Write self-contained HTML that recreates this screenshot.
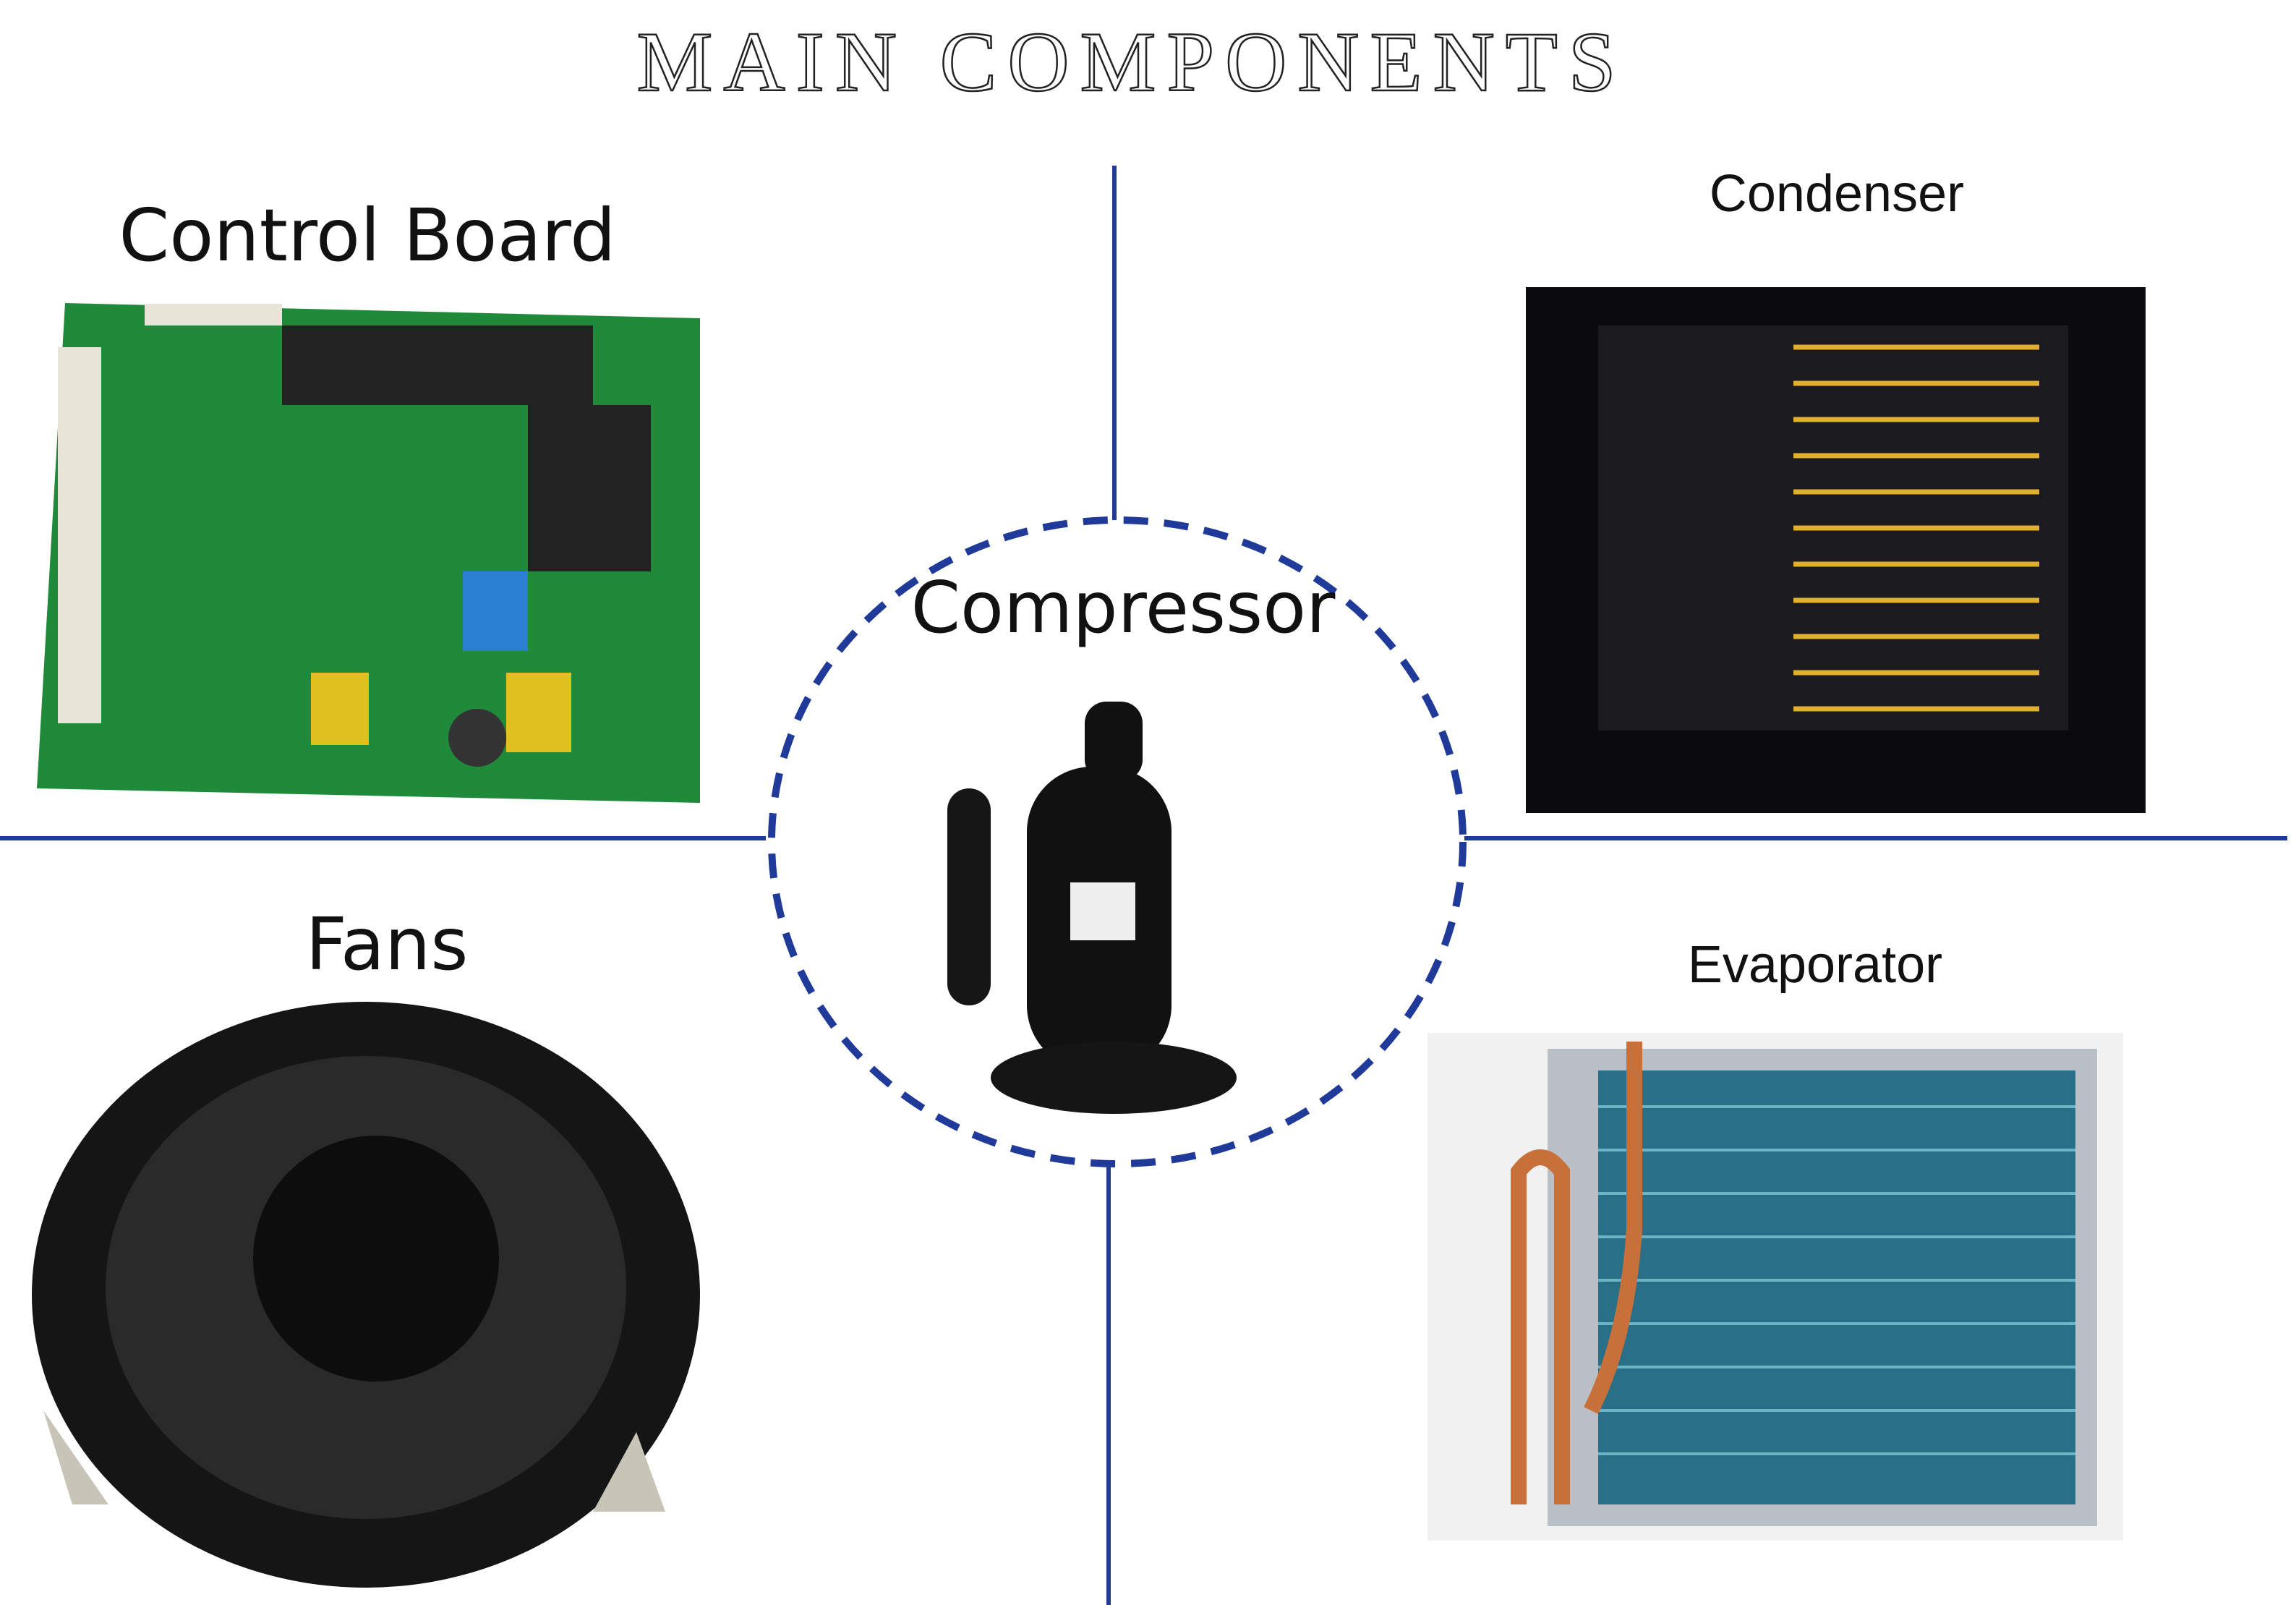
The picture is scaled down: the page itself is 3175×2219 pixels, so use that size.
<!DOCTYPE html>
<html><head><meta charset="utf-8"><style>
html,body{margin:0;padding:0;background:#fff;}
svg{display:block;}
text{font-family:"DejaVu Sans","Liberation Sans",sans-serif;fill:#111;}
</style></head><body>
<svg width="3175" height="2219" viewBox="0 0 3175 2219" xmlns="http://www.w3.org/2000/svg">
<rect width="3175" height="2219" fill="#fff"/>
<text x="1565" y="125" text-anchor="middle" style="font-family:'Liberation Serif',serif;font-size:118px;letter-spacing:15px;fill:#fff;stroke:#222;stroke-width:2.5">MAIN COMPONENTS</text>

<g stroke="#1f3a99" stroke-width="6">
<line x1="1541" y1="229" x2="1541" y2="719"/>
<line x1="1533" y1="1610" x2="1533" y2="2219"/>
<line x1="0" y1="1159" x2="1059" y2="1159"/>
<line x1="2025" y1="1159" x2="3163" y2="1159"/>
</g>
<ellipse cx="1545" cy="1164" rx="478" ry="445" fill="none" stroke="#1f3a99" stroke-width="10" stroke-dasharray="34 22"/>

<text x="508" y="360" text-anchor="middle" font-size="100">Control Board</text>
<text x="2540" y="292" text-anchor="middle" font-size="72" style="font-family:'Liberation Sans',sans-serif">Condenser</text>
<text x="1553" y="874" text-anchor="middle" font-size="98">Compressor</text>
<text x="535" y="1340" text-anchor="middle" font-size="100">Fans</text>
<text x="2510" y="1358" text-anchor="middle" font-size="72" style="font-family:'Liberation Sans',sans-serif">Evaporator</text>

<polygon points="90,419 968,440 968,1110 51,1090" fill="#1f8a3a"/>
<rect x="390" y="450" width="430" height="110" fill="#222"/>
<rect x="730" y="560" width="170" height="230" fill="#222"/>
<rect x="640" y="790" width="90" height="110" fill="#2a7fd0"/>
<rect x="430" y="930" width="80" height="100" fill="#e0c020"/>
<rect x="700" y="930" width="90" height="110" fill="#e0c020"/>
<circle cx="660" cy="1020" r="40" fill="#333"/>
<rect x="80" y="480" width="60" height="520" fill="#e8e4d8"/>
<rect x="200" y="420" width="190" height="30" fill="#e8e4d8"/>

<rect x="2110" y="397" width="857" height="727" fill="#0b0b0d"/>
<rect x="2210" y="450" width="650" height="560" fill="#1a1a1f"/>
<g stroke="#e0b030" stroke-width="7">
<line x1="2480" y1="480" x2="2820" y2="480"/><line x1="2480" y1="530" x2="2820" y2="530"/>
<line x1="2480" y1="580" x2="2820" y2="580"/><line x1="2480" y1="630" x2="2820" y2="630"/>
<line x1="2480" y1="680" x2="2820" y2="680"/><line x1="2480" y1="730" x2="2820" y2="730"/>
<line x1="2480" y1="780" x2="2820" y2="780"/><line x1="2480" y1="830" x2="2820" y2="830"/>
<line x1="2480" y1="880" x2="2820" y2="880"/><line x1="2480" y1="930" x2="2820" y2="930"/>
<line x1="2480" y1="980" x2="2820" y2="980"/>
</g>

<rect x="1420" y="1060" width="200" height="420" rx="90" fill="#111"/>
<rect x="1310" y="1090" width="60" height="300" rx="30" fill="#161616"/>
<rect x="1500" y="970" width="80" height="110" rx="30" fill="#111"/>
<ellipse cx="1540" cy="1490" rx="170" ry="50" fill="#151515"/>
<rect x="1480" y="1220" width="90" height="80" fill="#eee"/>

<ellipse cx="506" cy="1790" rx="462" ry="405" fill="#151515"/>
<ellipse cx="506" cy="1780" rx="360" ry="320" fill="#2a2a2a"/>
<circle cx="520" cy="1740" r="170" fill="#0d0d0d"/>
<polygon points="60,1950 150,2080 100,2080" fill="#c8c4b8"/>
<polygon points="880,1980 920,2090 820,2090" fill="#c8c4b8"/>

<rect x="1974" y="1428" width="962" height="702" fill="#f1f1f1"/>
<rect x="2140" y="1450" width="760" height="660" fill="#b9bfc4"/>
<rect x="2210" y="1480" width="660" height="600" fill="#2a6f88"/>
<g stroke="#6fb3c8" stroke-width="4">
<line x1="2210" y1="1530" x2="2870" y2="1530"/><line x1="2210" y1="1590" x2="2870" y2="1590"/>
<line x1="2210" y1="1650" x2="2870" y2="1650"/><line x1="2210" y1="1710" x2="2870" y2="1710"/>
<line x1="2210" y1="1770" x2="2870" y2="1770"/><line x1="2210" y1="1830" x2="2870" y2="1830"/>
<line x1="2210" y1="1890" x2="2870" y2="1890"/><line x1="2210" y1="1950" x2="2870" y2="1950"/>
<line x1="2210" y1="2010" x2="2870" y2="2010"/>
</g>
<g stroke="#c8703a" stroke-width="22" fill="none">
<path d="M2100,2080 L2100,1620 Q2130,1580 2160,1620 L2160,2080"/>
<path d="M2260,1440 L2260,1700 Q2250,1850 2200,1950"/>
</g>
</svg>
</body></html>
